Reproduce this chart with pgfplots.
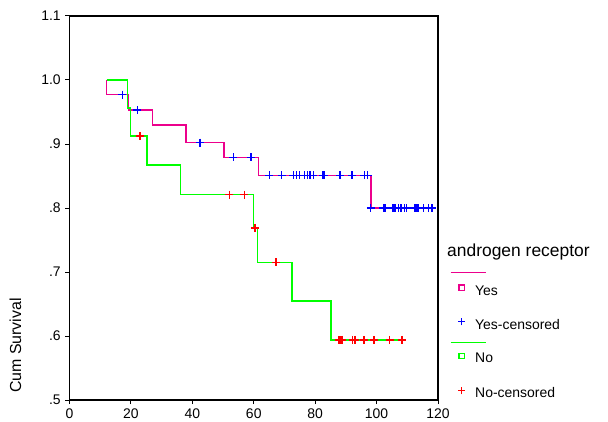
\documentclass[border=0pt]{standalone}
\usepackage{fontspec}
\setmainfont{Liberation Sans}
\usepackage{pgfplots}
\pgfplotsset{compat=1.18}

% Kaplan-Meier curves
\begin{document}
\fontsize{14}{16}\selectfont
\begin{tikzpicture}[x=1bp,y=1bp]
\useasboundingbox (-69.5,-21) rectangle (538.5,400);
\begin{axis}[
    at={(0,0)}, anchor=south west,
    scale only axis, width=368.5bp, height=384bp,
    xmin=0, xmax=120, ymin=0.5, ymax=1.1,
    xtick={0,20,40,60,80,100,120},
    xticklabels={0,20,40,60,80,100,120},
    ytick={0.5,0.6,0.7,0.8,0.9,1.0,1.1},
    yticklabels={.5,.6,.7,.8,.9,1.0,1.1},
    tick align=outside, tick pos=left,
    major tick length=4bp,
    axis line style={line width=1.5bp},
    tick style={black, line width=1bp},
    ticklabel style={font=\fontsize{14}{16}\selectfont},
    ylabel={Cum Survival},
    ylabel style={at={(axis description cs:-0.13,0.018)}, anchor=south west,
        inner sep=0pt, font=\fontsize{16}{18}\selectfont},
    clip=false,
]
% Yes
\addplot[const plot, magenta, line width=1.4bp] coordinates {
  (12.1,1.0) (12.1,0.977) (19.2,0.953) (27.0,0.930) (37.9,0.902)
  (50.3,0.879) (61.5,0.851) (98.2,0.800) (118.4,0.800)};
% No
\addplot[const plot, green, line width=1.4bp] coordinates {
  (12.1,1.0) (18.8,0.956) (19.9,0.9125) (25.3,0.867) (36.2,0.821)
  (59.9,0.769) (61.2,0.715) (72.4,0.655) (85.1,0.594) (109.6,0.594)};
% Yes-censored
\addplot[only marks, mark=+, blue, mark size=4bp, mark options={line width=1.4bp}] coordinates {
  (17.2,0.977) (22.1,0.953) (42.5,0.902) (53.4,0.879) (59.1,0.879)
  (65.1,0.851) (69.1,0.851) (72.9,0.851) (74.0,0.851) (74.9,0.851)
  (76.5,0.851) (77.5,0.851) (78.3,0.851) (79.4,0.851) (82.5,0.851)
  (83.0,0.851) (88.1,0.851) (92.0,0.851) (96.0,0.851) (97.1,0.851)
  (98.1,0.800) (102.2,0.800) (102.8,0.800) (105.3,0.800) (106.0,0.800)
  (107.1,0.800) (108.0,0.800) (109.0,0.800) (109.8,0.800) (112.5,0.800)
  (113.1,0.800) (113.6,0.800) (115.2,0.800) (116.9,0.800) (118.0,0.800)};
% No-censored
\addplot[only marks, mark=+, red, mark size=4bp, mark options={line width=1.4bp}] coordinates {
  (23.0,0.9125) (52.1,0.821) (56.9,0.821) (60.4,0.769) (67.2,0.715)
  (87.6,0.594) (88.1,0.594) (88.7,0.594) (92.2,0.594) (93.0,0.594)
  (95.9,0.594) (99.1,0.594) (104.3,0.594) (108.3,0.594)};
\end{axis}
% legend
\node[anchor=base west, inner sep=0pt, font=\fontsize{17.5}{20}\selectfont] at (377.5,143.3) {androgen receptor};
\draw[magenta, line width=1.2bp] (381.2,127.7) -- (416.5,127.7);
\node[draw=magenta, line width=1.1bp, minimum size=5.5bp, inner sep=0pt] at (392.2,112.3) {};
\node[anchor=base west, inner sep=0pt] at (405.5,105) {Yes};
\draw[blue, line width=1.3bp] (388.5,78.3) -- (395.9,78.3) (392.2,74.6) -- (392.2,82);
\node[anchor=base west, inner sep=0pt] at (405.5,70.7) {Yes-censored};
\draw[green, line width=1.2bp] (381.2,57.7) -- (416.5,57.7);
\node[draw=green, line width=1.1bp, minimum size=5.5bp, inner sep=0pt] at (392.2,44) {};
\node[anchor=base west, inner sep=0pt] at (405.5,37.3) {No};
\draw[red, line width=1.3bp] (388.5,9.3) -- (395.9,9.3) (392.2,5.6) -- (392.2,13);
\node[anchor=base west, inner sep=0pt] at (405.5,2.3) {No-censored};
\end{tikzpicture}
\end{document}
